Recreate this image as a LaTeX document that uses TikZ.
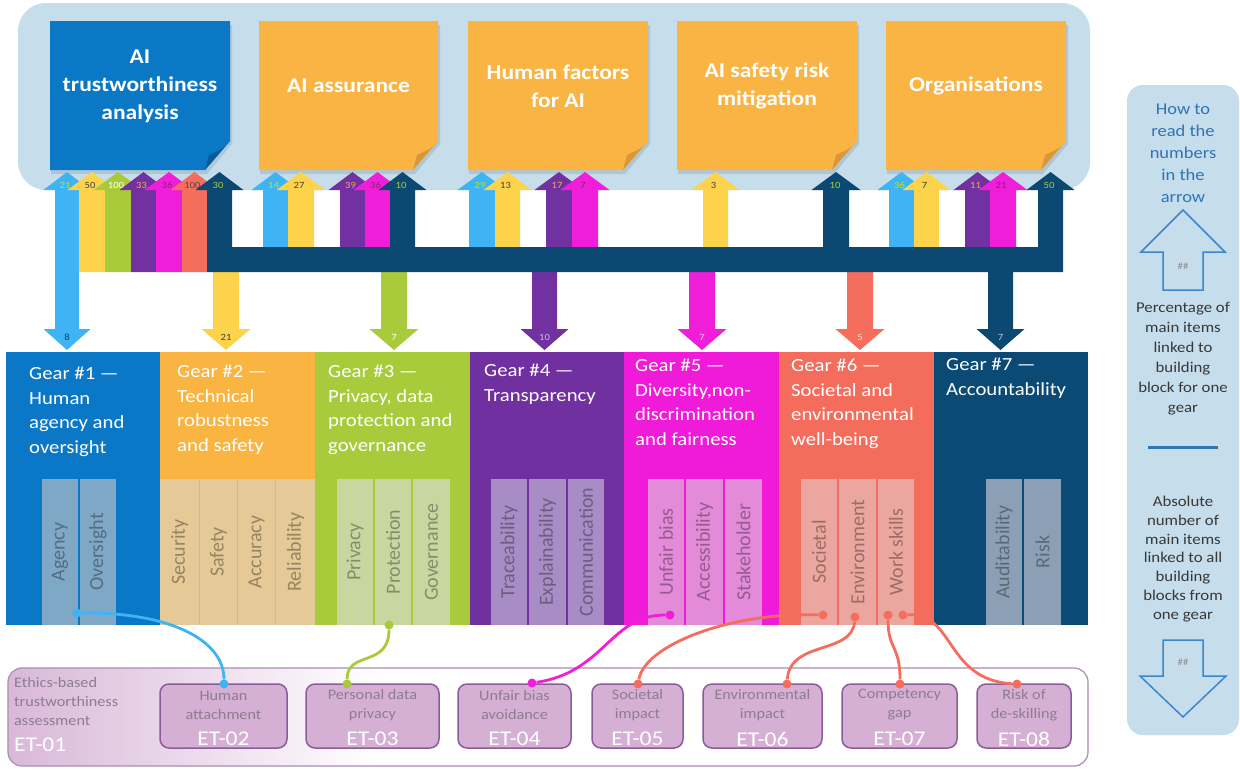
\documentclass[tikz,border=0pt]{standalone}
\usepackage{fontspec}
\setmainfont{Carlito}[FakeStretch=1.12]
\newfontfamily\rotfont{Carlito}
\usetikzlibrary{calc}

\definecolor{bgblue}{HTML}{C6DDEC}
\definecolor{notebl}{HTML}{0B78C6}
\definecolor{notebldk}{HTML}{095C9C}
\definecolor{noteor}{HTML}{F9B443}
\definecolor{noteordk}{HTML}{D8983A}
\definecolor{aLblue}{HTML}{3EB4F4}
\definecolor{aYel}{HTML}{FDD34B}
\definecolor{aGrn}{HTML}{A9CB3B}
\definecolor{aPur}{HTML}{7231A1}
\definecolor{aMag}{HTML}{F01ED8}
\definecolor{aRed}{HTML}{F56D5D}
\definecolor{aNavy}{HTML}{0B4872}
\definecolor{gA}{HTML}{0A78C6}
\definecolor{gB}{HTML}{F9B441}
\definecolor{gC}{HTML}{A8CB3B}
\definecolor{gD}{HTML}{7030A0}
\definecolor{gE}{HTML}{F01AD9}
\definecolor{gF}{HTML}{F46C5C}
\definecolor{gG}{HTML}{0B4A74}
\definecolor{bA}{HTML}{7FA7C6}
\definecolor{bB}{HTML}{E5C996}
\definecolor{bC}{HTML}{C8D7A0}
\definecolor{bD}{HTML}{A88CC6}
\definecolor{bE}{HTML}{E38BD9}
\definecolor{bF}{HTML}{EBA69F}
\definecolor{bG}{HTML}{8BA0B5}
\definecolor{lime}{HTML}{C2E01A}
\definecolor{peach}{HTML}{F2A65A}
\definecolor{plum}{HTML}{8C2080}
\definecolor{etfill}{HTML}{D5B0D4}
\definecolor{etedge}{HTML}{8A5C9C}
\definecolor{ettext}{HTML}{8E7C90}
\definecolor{etbg}{HTML}{D9B8D8}
\definecolor{etpanel}{HTML}{A98DB2}
\definecolor{guideblue}{HTML}{2F74B5}
\definecolor{guideline}{HTML}{3B87CB}

% up arrow: left x, right x, colour, bottom y, label, label colour, label name
\newcommand{\arrUp}[7]{%
  \fill[#3] (#1,#4) -- (#1,190) -- ({#1-11.5},190) -- ({(#1+#2)/2},172)
    -- ({#2+11.5},190) -- (#2,190) -- (#2,#4) -- cycle;
  \node[albl,text=#6] (#7) at ({(#1+#2)/2-2},185) {#5};}
% down arrow from the bus to a gear: left x, right x, colour, label, label colour, name
\newcommand{\arrDown}[6]{%
  \fill[#3] (#1,270) -- (#1,329) -- ({#1-11.5},329) -- ({(#1+#2)/2},350)
    -- ({#2+11.5},329) -- (#2,329) -- (#2,270) -- cycle;
  \node[albl,text=#5] (#6) at ({(#1+#2)/2},337) {#4};}
% sticky note: left x, right x, fill, fold colour
\newcommand{\sticky}[4]{%
  \fill[black,opacity=.10] ({#1+1},25) -- ({#2+2},25) -- ({#2+2},144) -- ({#2-23},174) -- ({#1+1},174) -- cycle;
  \fill[#3] (#1,21) -- (#2,21) -- (#2,141) -- ({#2-25},170) -- (#1,170) -- cycle;
  \fill[#4] (#2,141) .. controls ({#2-6},150) and ({#2-14},151) .. ({#2-21},155) -- ({#2-25},170) -- cycle;}

\begin{document}
\begin{tikzpicture}[x=1pt,y=-1pt,
  albl/.style={font=\fontsize{9.5}{10}\selectfont, inner sep=0pt},
  notetxt/.style={text=white, font=\bfseries\fontsize{21}{28}\selectfont, align=center, inner sep=0pt},
  geartxt/.style={text=white, font=\fontsize{18.5}{24.5}\selectfont, align=left, anchor=north west, inner sep=0pt},
  bartxt/.style={rotate=90, font=\rotfont\fontsize{20}{24}\selectfont, text=black, text opacity=.34, inner sep=0pt},
  etbox/.style={draw=etedge, fill=etfill, line width=1.5pt, rounded corners=9pt, minimum height=64pt, inner sep=0pt},
  ettxt/.style={text=ettext, font=\fontsize{14.5}{19}\selectfont, align=center, inner sep=0pt},
  etid/.style={text=white, font=\fontsize{21}{24}\selectfont, inner sep=0pt},
  dot/.style={circle, fill=#1, inner sep=0pt, minimum size=9pt},
  link/.style={line width=2.8pt, draw=#1},
  guidetxt/.style={font=\fontsize{15}{20}\selectfont, align=center, inner sep=0pt, text=black!78},
]
\useasboundingbox (0,0) rectangle (1240,769);
\fill[white] (0,0) rectangle (1240,769);

% ---------- building blocks ----------
\fill[bgblue, rounded corners=28pt] (18,3) rectangle (1090,190);
\sticky{50}{230}{notebl}{notebldk}
\sticky{259}{438}{noteor}{noteordk}
\sticky{468}{648}{noteor}{noteordk}
\sticky{677}{857}{noteor}{noteordk}
\sticky{886}{1066}{noteor}{noteordk}
\node[notetxt] (n1) at (140,86) {AI\\trustworthiness\\analysis};
\node[notetxt] (n2) at (348.5,86) {AI assurance};
\node[notetxt] (n3) at (558,86) {Human factors\\for AI};
\node[notetxt] (n4) at (767,86) {AI safety risk\\mitigation};
\node[notetxt] (n5) at (976,86) {Organisations};

% ---------- gears ----------
\fill[gA] (6,352) rectangle (160,625);
\fill[gB] (160,352) rectangle (315,625);
\fill[gC] (315,352) rectangle (470,625);
\fill[gD] (470,352) rectangle (624,625);
\fill[gE] (624,352) rectangle (779,625);
\fill[gF] (779,352) rectangle (934,625);
\fill[gG] (934,352) rectangle (1088,625);

\fill[bA] (42,479) rectangle (78,625);  \fill[bA] (80,479) rectangle (116,625);
\fill[bB] (160,479) rectangle (199,625); \fill[bB] (200,479) rectangle (237,625);
\fill[bB] (238,479) rectangle (275,625); \fill[bB] (276,479) rectangle (315,625);
\fill[bC] (337,479) rectangle (373,625); \fill[bC] (375,479) rectangle (411,625);
\fill[bC] (413,479) rectangle (450,625);
\fill[bD] (491,479) rectangle (527,625); \fill[bD] (529,479) rectangle (566,625);
\fill[bD] (568,479) rectangle (604,625);
\fill[bE] (648,479) rectangle (684,625); \fill[bE] (686,479) rectangle (723,625);
\fill[bE] (725,479) rectangle (762,625);
\fill[bF] (801,479) rectangle (837,625); \fill[bF] (839,479) rectangle (876,625);
\fill[bF] (878,479) rectangle (914,625);
\fill[bG] (986,479) rectangle (1022,625); \fill[bG] (1024,479) rectangle (1061,625);

\node[bartxt] (t11) at (60,552) {Agency};
\node[bartxt] (t12) at (98,552) {Oversight};
\node[bartxt] (t21) at (179.5,552) {Security};
\node[bartxt] (t22) at (218.5,552) {Safety};
\node[bartxt] (t23) at (256.5,552) {Accuracy};
\node[bartxt] (t24) at (295.5,552) {Reliability};
\node[bartxt] (t31) at (355,552) {Privacy};
\node[bartxt] (t32) at (393,552) {Protection};
\node[bartxt] (t33) at (431.5,552) {Governance};
\node[bartxt] (t41) at (509,552) {Traceability};
\node[bartxt] (t42) at (547.5,552) {Explainability};
\node[bartxt] (t43) at (586,552) {Communication};
\node[bartxt] (t51) at (666,552) {Unfair bias};
\node[bartxt] (t52) at (704.5,552) {Accessibility};
\node[bartxt] (t53) at (743.5,552) {Stakeholder};
\node[bartxt] (t61) at (819,552) {Societal};
\node[bartxt] (t62) at (857.5,552) {Environment};
\node[bartxt] (t63) at (896,552) {Work skills};
\node[bartxt] (t71) at (1004,552) {Auditability};
\node[bartxt] (t72) at (1042.5,552) {Risk};

\node[geartxt] (g1) at (29,367) {Gear \#1 —\\Human\\agency and\\oversight};
\node[geartxt] (g2) at (177,365) {Gear \#2 —\\Technical\\robustness\\and safety};
\node[geartxt] (g3) at (328,365) {Gear \#3 —\\Privacy, data\\protection and\\governance};
\node[geartxt] (g4) at (484,364) {Gear \#4 —\\Transparency};
\node[geartxt] (g5) at (635,359) {Gear \#5 —\\Diversity,non-\\discrimination\\and fairness};
\node[geartxt] (g6) at (791,359) {Gear \#6 —\\Societal and\\environmental\\well-being};
\node[geartxt] (g7) at (946,358) {Gear \#7 —\\Accountability};

% ---------- arrows between building blocks and gears ----------
% gear 1: double arrow
\fill[aLblue] (55,190) -- (43.5,190) -- (67,172) -- (90.5,190) -- (79,190) -- (79,329)
  -- (90.5,329) -- (67,350) -- (43.5,329) -- (55,329) -- cycle;
\node[albl,text=lime] (u11) at (65,185) {21};
\node[albl,text=aNavy] (dn1) at (67,337) {8};
\arrUp{79}{105}{aYel}{272}{50}{black!75}{u12}
\arrUp{105}{131}{aGrn}{272}{100}{white}{u13}
\arrUp{131}{156}{aPur}{272}{33}{peach}{u14}
\arrUp{156}{182}{aMag}{272}{36}{plum}{u15}
\arrUp{182}{207}{aRed}{272}{100}{black!70}{u16}

\arrUp{263}{288}{aLblue}{255}{14}{lime}{u21}
\arrUp{288}{314}{aYel}{255}{27}{black!75}{u22}
\arrUp{340}{365}{aPur}{255}{39}{peach}{u24}
\arrUp{365}{390}{aMag}{255}{36}{plum}{u25}

\arrUp{469}{495}{aLblue}{255}{29}{lime}{u31}
\arrUp{495}{520}{aYel}{255}{13}{black!75}{u32}
\arrUp{546}{572}{aPur}{255}{17}{peach}{u34}
\arrUp{572}{598}{aMag}{255}{7}{plum}{u35}

\arrUp{703}{728}{aYel}{255}{3}{black!75}{u42}

\arrUp{889}{914}{aLblue}{255}{36}{lime}{u51}
\arrUp{914}{939}{aYel}{255}{7}{black!75}{u52}
\arrUp{965}{990}{aPur}{255}{11}{peach}{u54}
\arrUp{990}{1016}{aMag}{255}{21}{plum}{u55}

\arrDown{213}{239}{aYel}{21}{black!75}{dn2}
\arrDown{381}{407}{aGrn}{7}{white}{dn3}
\arrDown{532}{557}{aPur}{10}{aPur!35}{dn4}
\arrDown{689}{715}{aMag}{7}{aMag!25}{dn5}
\arrDown{847}{873}{aRed}{5}{aRed!25}{dn6}

% accountability bus
\fill[aNavy] (207,272) -- (207,190) -- (195.5,190) -- (219.5,172) -- (243.5,190) -- (232,190)
  -- (232,247) -- (390,247) -- (390,190) -- (378.5,190) -- (402.5,172) -- (426.5,190)
  -- (415,190) -- (415,247) -- (823,247) -- (823,190) -- (811.5,190) -- (836,172)
  -- (860.5,190) -- (849,190) -- (849,247) -- (1038,247) -- (1038,190) -- (1026.5,190)
  -- (1050.5,172) -- (1074.5,190) -- (1063,190) -- (1063,272) -- (1013,272) -- (1013,329)
  -- (1024.5,329) -- (1000.5,350) -- (976.5,329) -- (988,329) -- (988,272) -- cycle;
\node[albl,text=aGrn] (u17) at (218,185) {30};
\node[albl,text=aGrn] (u26) at (401,185) {10};
\node[albl,text=aGrn] (u47) at (835,185) {10};
\node[albl,text=aGrn] (u57) at (1049,185) {50};
\node[albl,text=bG!60] (dn7) at (1000.5,337) {7};

% ---------- ethics-based trustworthiness assessment ----------
\begin{scope}
  \clip[rounded corners=14pt] (8,668) rectangle (1088,766);
  \fill[white] (8,668) rectangle (1088,766);
  \shade[left color=etbg, right color=white] (8,668) rectangle (380,766);
\end{scope}
\draw[etpanel, line width=1.2pt, rounded corners=14pt] (8,668) rectangle (1088,766);
\node[text=ettext, font=\fontsize{14.5}{19}\selectfont, align=left, anchor=west, inner sep=0pt] (et1t) at (14,702) {Ethics-based\\trustworthiness\\assessment};
\node[etid, anchor=west] (et1) at (14,745) {ET-01};

\node[etbox, minimum width=127pt] (et2) at (223.5,716) {};
\node[etbox, minimum width=133pt] (et3) at (372.5,716) {};
\node[etbox, minimum width=113pt] (et4) at (514.5,716) {};
\node[etbox, minimum width=91pt]  (et5) at (637.5,716) {};
\node[etbox, minimum width=119pt] (et6) at (762.5,716) {};
\node[etbox, minimum width=115pt] (et7) at (899.5,716) {};
\node[etbox, minimum width=94pt]  (et8) at (1024,716) {};

\node[ettxt] (et2t) at (223.5,705) {Human\\attachment};
\node[ettxt] (et3t) at (372.5,705) {Personal data\\privacy};
\node[ettxt] (et4t) at (514.5,705) {Unfair bias\\avoidance};
\node[ettxt] (et5t) at (637.5,705) {Societal\\impact};
\node[ettxt] (et6t) at (762.5,705) {Environmental\\impact};
\node[ettxt] (et7t) at (899.5,705) {Competency\\gap};
\node[ettxt] (et8t) at (1024,705) {Risk of\\de-skilling};
\node[etid] (et2i) at (223.5,739) {ET-02};
\node[etid] (et3i) at (372.5,739) {ET-03};
\node[etid] (et4i) at (514.5,739) {ET-04};
\node[etid] (et5i) at (637.5,739) {ET-05};
\node[etid] (et6i) at (762.5,739) {ET-06};
\node[etid] (et7i) at (899.5,739) {ET-07};
\node[etid] (et8i) at (1024,739) {ET-08};

% ---------- links from gear items to assessments ----------
\node[dot=aLblue] (s2) at (77,613) {};
\node[dot=aLblue] (p2) at (224,684) {};
\node[dot=aGrn]   (s3) at (389,625) {};
\node[dot=aGrn]   (p3) at (347,684) {};
\node[dot=aMag]   (s4) at (670,615) {};
\node[dot=aMag]   (p4) at (532,683) {};
\node[dot=aRed]   (s5) at (823,615) {};
\node[dot=aRed]   (p5) at (638,684) {};
\node[dot=aRed]   (s6) at (855,617) {};
\node[dot=aRed]   (p6) at (787,684) {};
\node[dot=aRed]   (s7) at (888,615) {};
\node[dot=aRed]   (p7) at (900,684) {};
\node[dot=aRed]   (s8) at (903,615) {};
\node[dot=aRed]   (p8) at (1017,684) {};
\draw[link=aLblue] (s2) .. controls (170,612) and (224,640) .. (p2);
\draw[link=aGrn]   (s3) .. controls (389,668) and (347,650) .. (p3);
\draw[link=aMag]   (s4) .. controls (610,615) and (605,672) .. (p4);
\draw[link=aRed]   (s5) .. controls (730,612) and (645,645) .. (p5);
\draw[link=aRed]   (s6) .. controls (852,655) and (790,640) .. (p6);
\draw[link=aRed]   (s7) .. controls (888,650) and (900,645) .. (p7);
\draw[link=aRed]   (s8) .. controls (955,612) and (945,680) .. (p8);

% ---------- reading guide ----------
\fill[bgblue, rounded corners=16pt] (1127,85) rectangle (1239,735);
\node[guidetxt, text=guideblue, font=\fontsize{16.5}{22}\selectfont] (h1) at (1183,153) {How to\\read the\\numbers\\in the\\arrow};
\draw[guideline, line width=1.5pt, line join=miter] (1163,290) -- (1163,252) -- (1141,252) -- (1183,210)
  -- (1225,252) -- (1203,252) -- (1203,290) -- cycle;
\node[albl, text=black!45] (h2) at (1183,266) {\#\#};
\node[guidetxt] (h3) at (1183,359) {Percentage of\\main items\\linked to\\building\\block for one\\gear};
\draw[guideblue, line width=3pt] (1148,447) -- (1218,447);
\node[guidetxt, font=\fontsize{15}{18.7}\selectfont] (h4) at (1183,559) {Absolute\\number of\\main items\\linked to all\\building\\blocks from\\one gear};
\draw[guideline, line width=1.5pt, line join=miter] (1163,640) -- (1163,676) -- (1140,676) -- (1183,717)
  -- (1226,676) -- (1203,676) -- (1203,640) -- cycle;
\node[albl, text=black!45] (h5) at (1183,662) {\#\#};
\end{tikzpicture}
\end{document}
